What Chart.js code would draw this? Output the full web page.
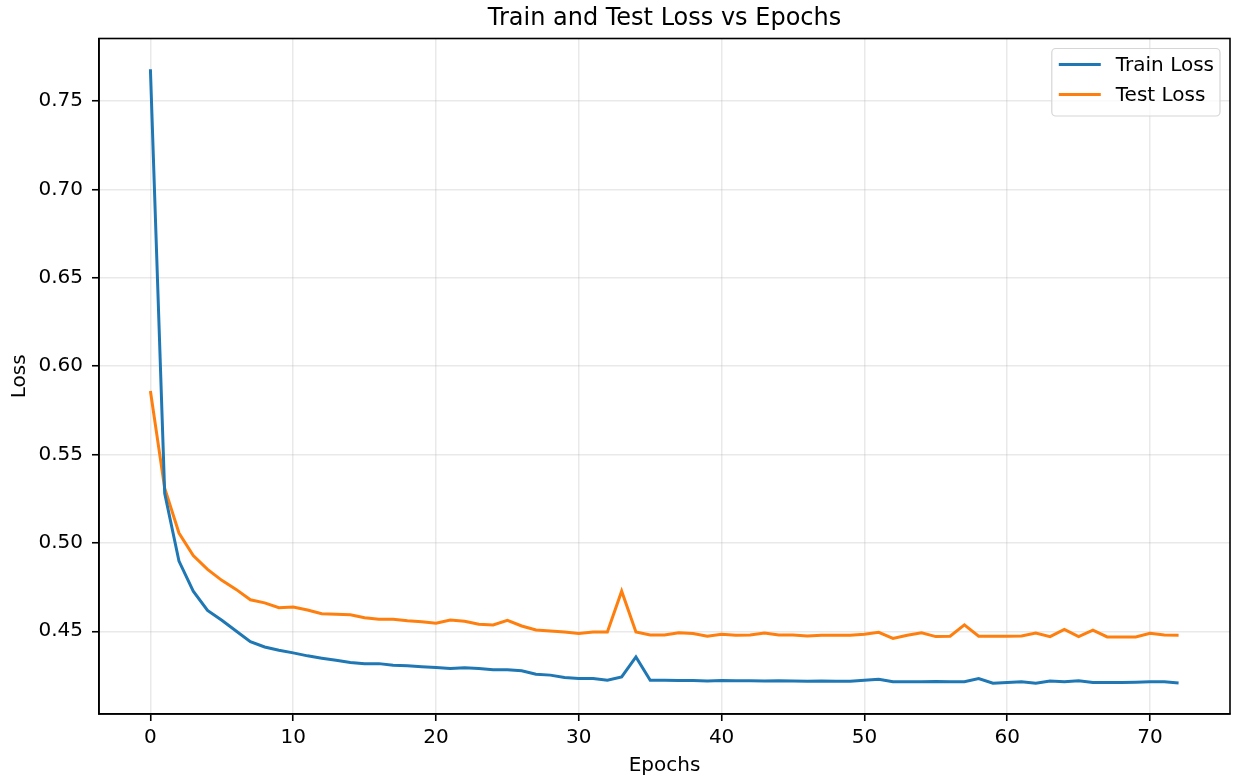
<!DOCTYPE html>
<html>
<head>
<meta charset="utf-8">
<title>Train and Test Loss vs Epochs</title>
<script src="https://cdn.jsdelivr.net/npm/chart.js@4/dist/chart.umd.min.js"></script>
<style>
html, body { margin: 0; padding: 0; background: #fff; }
canvas { display: block; }
</style>
</head>
<body>
<canvas id="lossChart" width="1233" height="782"></canvas>
<script>
// epoch index for each recorded loss
const epochs = Array.from({length: 73}, (_, i) => i);

const trainLoss = [
0.768, 0.528, 0.4897, 0.4727, 0.4618, 0.4562, 0.4502, 0.4441, 0.4411, 0.4393,
0.4378, 0.4361, 0.4348, 0.4336, 0.4323, 0.4317, 0.4317, 0.4308, 0.4305, 0.4300,
0.4295, 0.4289, 0.4293, 0.4289, 0.4282, 0.4282, 0.4277, 0.4257, 0.4252, 0.4238,
0.4233, 0.4233, 0.4223, 0.4242, 0.4355, 0.4223, 0.4223, 0.4221, 0.4221, 0.4219,
0.4221, 0.4220, 0.4220, 0.4219, 0.4220, 0.4219, 0.4218, 0.4219, 0.4218, 0.4218,
0.4223, 0.4229, 0.4214, 0.4214, 0.4214, 0.4216, 0.4214, 0.4214, 0.4233, 0.4206,
0.4210, 0.4214, 0.4206, 0.4218, 0.4214, 0.4220, 0.4210, 0.4210, 0.4210, 0.4212,
0.4214, 0.4214, 0.4208
];

const testLoss = [
0.586, 0.531, 0.5056, 0.4929, 0.4850, 0.4788, 0.4737, 0.4678, 0.4661, 0.4633,
0.4637, 0.4620, 0.4599, 0.4596, 0.4594, 0.4577, 0.4568, 0.4568, 0.4560, 0.4554,
0.4545, 0.4564, 0.4557, 0.4540, 0.4536, 0.4562, 0.4530, 0.4507, 0.4502, 0.4496,
0.4487, 0.4496, 0.4496, 0.4727, 0.4496, 0.4479, 0.4479, 0.4492, 0.4487, 0.4472,
0.4483, 0.4478, 0.4479, 0.4490, 0.4479, 0.4479, 0.4473, 0.4478, 0.4477, 0.4477,
0.4483, 0.4494, 0.4460, 0.4478, 0.4492, 0.4470, 0.4472, 0.4536, 0.4472, 0.4472,
0.4472, 0.4474, 0.4490, 0.4470, 0.4511, 0.4470, 0.4506, 0.4468, 0.4468, 0.4468,
0.4489, 0.4479, 0.4478
];

const xTicks = [0, 10, 20, 30, 40, 50, 60, 70];
const yTicks = [0.45, 0.50, 0.55, 0.60, 0.65, 0.70, 0.75];

Chart.defaults.font.family = "'DejaVu Sans', sans-serif";
Chart.defaults.color = "#000";

// box around the plot area, like matplotlib spines
const frame = {
  id: "frame",
  afterDatasetsDraw(chart) {
    const {ctx, chartArea: a} = chart;
    ctx.save();
    ctx.strokeStyle = "#000";
    ctx.lineWidth = 1.6;
    ctx.strokeRect(a.left, a.top, a.right - a.left, a.bottom - a.top);
    ctx.restore();
  }
};

// legend drawn inside the upper right corner
const innerLegend = {
  id: "innerLegend",
  afterDraw(chart) {
    const {ctx, chartArea: a} = chart;
    const sets = chart.data.datasets;
    ctx.save();
    ctx.font = "20px 'DejaVu Sans'";
    const textW = Math.max(...sets.map(d => ctx.measureText(d.label).width));
    const w = 8 + 40 + 14 + textW + 8;
    const h = 67.5;
    const x = a.right - 10 - w;
    const y = a.top + 10;
    ctx.beginPath();
    ctx.roundRect(x, y, w, h, 4);
    ctx.fillStyle = "rgba(255,255,255,0.8)";
    ctx.fill();
    ctx.strokeStyle = "#d6d6d6";
    ctx.lineWidth = 1.2;
    ctx.stroke();
    sets.forEach((d, i) => {
      const cy = y + 16 + i * 30;
      ctx.beginPath();
      ctx.moveTo(x + 7, cy);
      ctx.lineTo(x + 49, cy);
      ctx.strokeStyle = d.borderColor;
      ctx.lineWidth = 3;
      ctx.stroke();
      ctx.fillStyle = "#000";
      ctx.textBaseline = "middle";
      ctx.fillText(d.label, x + 64, cy + 1);
    });
    ctx.restore();
  }
};

new Chart(
document.getElementById("lossChart"),
{
type: "line",
data: {
  labels: epochs,
  datasets: [{
    label: "Train Loss",
    data: trainLoss,
    borderColor: "#1f77b4",
    borderWidth: 3,
    pointRadius: 0,
    tension: 0
  }, {
    label: "Test Loss",
    data: testLoss,
    borderColor: "#ff7f0e",
    borderWidth: 3,
    pointRadius: 0,
    tension: 0
  }]
},
options: {
  responsive: false,
  animation: false,
  devicePixelRatio: 1,
  layout: { padding: { left: 0, right: 3, top: 0, bottom: 0 } },
  plugins: {
    legend: { display: false },
    tooltip: { enabled: false },
    title: {
      display: true,
      text: "Train and Test Loss vs Epochs",
      fullSize: false,
      color: "#000",
      font: { size: 24, weight: "normal" },
      padding: { top: 4, bottom: 5.7 }
    }
  },
  scales: {
    x: {
      type: "linear",
      min: -3.6,
      max: 75.6,
      afterBuildTicks: s => { s.ticks = xTicks.map(v => ({ value: v })); },
      afterFit: s => { s.height = 68; },
      ticks: { font: { size: 20 }, padding: 5, maxRotation: 0 },
      grid: { color: "rgba(176,176,176,0.28)", lineWidth: 1.5, tickColor: "#000", tickLength: 7, tickWidth: 1.6 },
      border: { display: true, color: "#000", width: 1.6 },
      title: { display: true, text: "Epochs", font: { size: 20 }, padding: { top: 0, bottom: 4 } }
    },
    y: {
      type: "linear",
      min: 0.4032,
      max: 0.7854,
      afterBuildTicks: s => { s.ticks = yTicks.map(v => ({ value: v })); },
      afterFit: s => { s.width = 99; },
      ticks: { font: { size: 20 }, padding: 9, callback: v => v.toFixed(2) },
      grid: { color: "rgba(176,176,176,0.28)", lineWidth: 1.5, tickColor: "#000", tickLength: 7, tickWidth: 1.6 },
      border: { display: true, color: "#000", width: 1.6 },
      title: { display: true, text: "Loss", font: { size: 20 }, padding: { top: 8, bottom: 0 } }
    }
  }
},
plugins: [frame, innerLegend]
});
</script>
</body>
</html>
